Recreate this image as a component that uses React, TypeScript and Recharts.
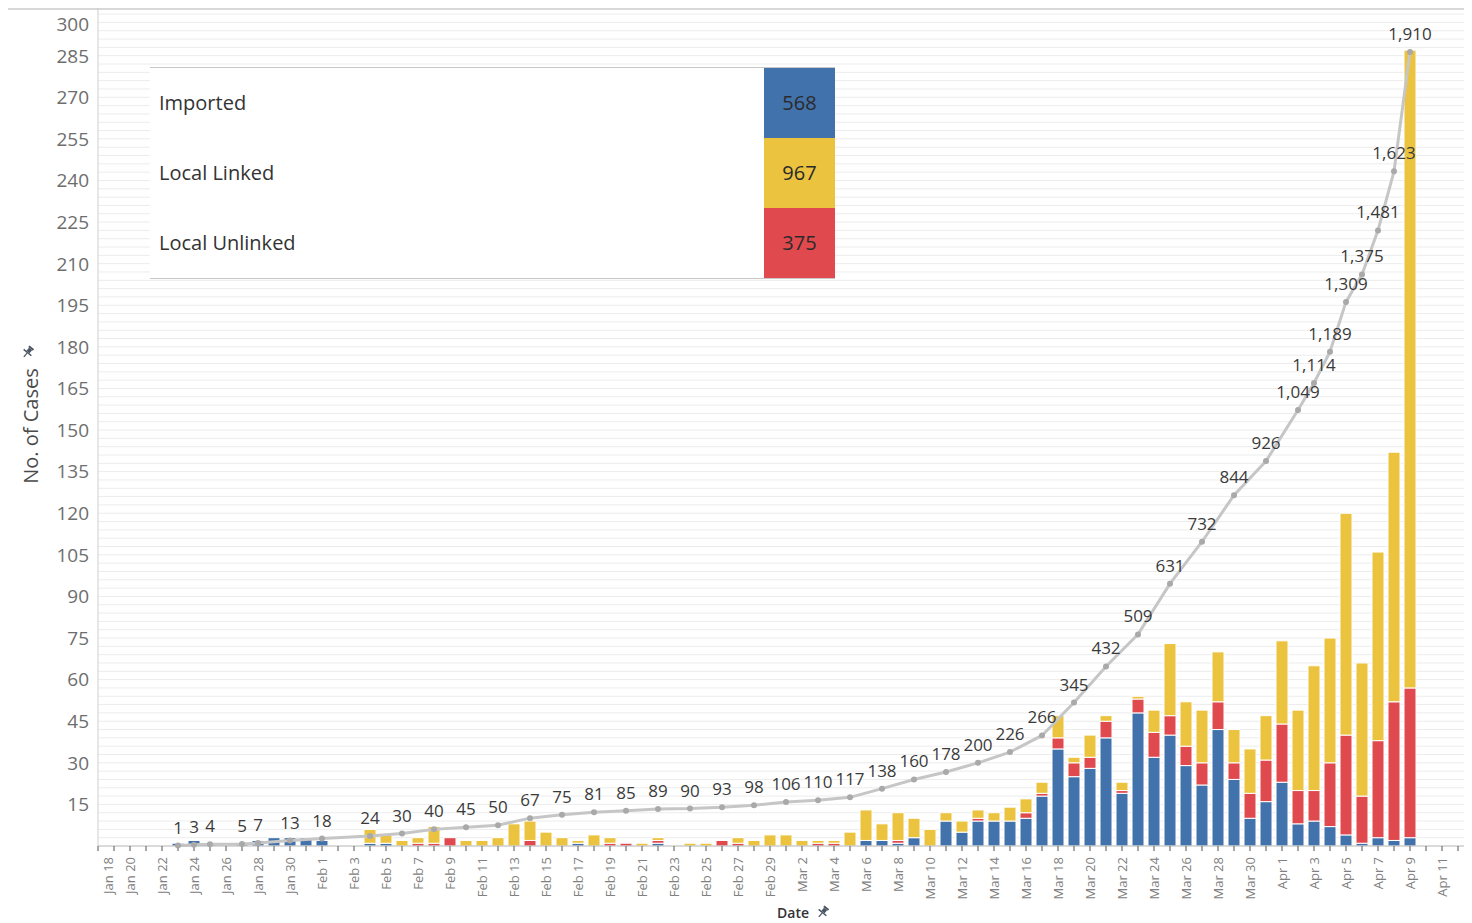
import { ComposedChart, Bar, Line, XAxis, YAxis, CartesianGrid, LabelList } from 'recharts';

const dates = [
  'Jan 18', 'Jan 19', 'Jan 20', 'Jan 21', 'Jan 22', 'Jan 23', 'Jan 24', 'Jan 25', 'Jan 26', 'Jan 27',
  'Jan 28', 'Jan 29', 'Jan 30', 'Jan 31',
  'Feb 1', 'Feb 2', 'Feb 3', 'Feb 4', 'Feb 5', 'Feb 6', 'Feb 7', 'Feb 8', 'Feb 9', 'Feb 10',
  'Feb 11', 'Feb 12', 'Feb 13', 'Feb 14', 'Feb 15', 'Feb 16', 'Feb 17', 'Feb 18', 'Feb 19', 'Feb 20',
  'Feb 21', 'Feb 22', 'Feb 23', 'Feb 24', 'Feb 25', 'Feb 26', 'Feb 27', 'Feb 28', 'Feb 29',
  'Mar 1', 'Mar 2', 'Mar 3', 'Mar 4', 'Mar 5', 'Mar 6', 'Mar 7', 'Mar 8', 'Mar 9', 'Mar 10',
  'Mar 11', 'Mar 12', 'Mar 13', 'Mar 14', 'Mar 15', 'Mar 16', 'Mar 17', 'Mar 18', 'Mar 19', 'Mar 20',
  'Mar 21', 'Mar 22', 'Mar 23', 'Mar 24', 'Mar 25', 'Mar 26', 'Mar 27', 'Mar 28', 'Mar 29', 'Mar 30', 'Mar 31',
  'Apr 1', 'Apr 2', 'Apr 3', 'Apr 4', 'Apr 5', 'Apr 6', 'Apr 7', 'Apr 8', 'Apr 9', 'Apr 10',
  'Apr 11', 'Apr 12', 'Apr 13',
];

// daily new cases, one entry per date above
const imported = [
  0, 0, 0, 0, 0, 1, 2, 1, 0, 1, 2, 3, 3, 3,
  2, 0, 0, 1, 1, 0, 0, 0, 0, 0, 0, 0, 0, 0, 0, 0, 1, 0, 0, 0, 0, 1, 0, 0, 0, 0, 0, 0, 0,
  0, 0, 0, 0, 0, 2, 2, 1, 3, 0, 9, 5, 9, 9, 9, 10, 18, 35, 25, 28, 39, 19, 48, 32, 40, 29, 22, 42, 24, 10, 16,
  23, 8, 9, 7, 4, 1, 3, 2, 3, 0, 0, 0, 0,
];

const localUnlinked = [
  0, 0, 0, 0, 0, 0, 0, 0, 0, 0, 0, 0, 0, 0,
  0, 0, 0, 0, 0, 0, 1, 1, 3, 0, 0, 0, 0, 2, 0, 0, 0, 0, 1, 1, 0, 1, 0, 0, 0, 2, 1, 0, 0,
  0, 0, 1, 1, 0, 0, 0, 1, 0, 0, 0, 0, 1, 0, 0, 2, 1, 4, 5, 4, 6, 1, 5, 9, 7, 7, 8, 10, 6, 9, 15,
  21, 12, 11, 23, 36, 17, 35, 50, 54, 0, 0, 0, 0,
];

const localLinked = [
  0, 0, 0, 0, 0, 0, 0, 0, 0, 0, 0, 0, 0, 0,
  0, 0, 0, 5, 3, 2, 2, 6, 0, 2, 2, 3, 8, 7, 5, 3, 1, 4, 2, 0, 1, 1, 0, 1, 1, 0, 2, 2, 4,
  4, 2, 1, 1, 5, 11, 6, 10, 7, 6, 3, 4, 3, 3, 5, 5, 4, 8, 2, 8, 2, 3, 1, 8, 26, 16, 19, 18, 12, 16, 16,
  30, 29, 45, 45, 80, 48, 68, 90, 230, 0, 0, 0, 0,
];

// cumulative total, only where the original shows a point and label
const cumulative = [
  null, null, null, null, null, 1, 3, 4, null, 5, 7, null, 13, null,
  18, null, null, 24, null, 30, null, 40, null, 45, null, 50, null, 67, null, 75, null, 81, null, 85,
  null, 89, null, 90, null, 93, null, 98, null,
  106, null, 110, null, 117, null, 138, null, 160, null, 178, null, 200, null, 226, null, 266, null, 345, null,
  432, null, 509, null, 631, null, 732, null, 844, null, 926,
  null, 1049, 1114, 1189, 1309, 1375, 1481, 1623, 1910, null, null, null, null,
];

const legendNames = ['Imported', 'Local Linked', 'Local Unlinked'];
const legendTotals = [568, 967, 375];

const yTicks = [15, 30, 45, 60, 75, 90, 105, 120, 135, 150, 165, 180, 195, 210, 225, 240, 255, 270, 285, 300];

const BLUE = '#4272ab';
const YELLOW = '#ebc33e';
const RED = '#e04a4f';
const legendColors = [BLUE, YELLOW, RED];
const FONT = "'Open Sans', 'Noto Sans', sans-serif";

const data = dates.map((date, i) => ({
  day: i,
  date,
  imported: imported[i],
  unlinked: localUnlinked[i],
  linked: localLinked[i],
  cum: cumulative[i],
}));

const dayTicks = Array.from({ length: 88 }, (_, i) => i);
const gridValues = Array.from({ length: 100 }, (_, i) => (i + 1) * 3);

const XTick = (props: any) => {
  const { x, y, payload } = props;
  const i = payload.value;
  if (i % 2 !== 0 || !dates[i]) return null;
  const shift = i === 0 ? 10 : 0;
  return (
    <text
      transform={`translate(${x + shift},${y}) rotate(-90)`}
      x={-4}
      dy="0.35em"
      textAnchor="end"
      fontSize={13}
      fill="#808080"
      fontFamily={FONT}
    >
      {dates[i]}
    </text>
  );
};

const YTick = (props: any) => {
  const { y, payload } = props;
  // the top label is held inside the plot, as in the original
  const ty = Math.max(y, 16);
  return (
    <text x={81} y={ty} dy="0.36em" textAnchor="end" fontSize={19} fill="#6e6e6e" fontFamily={FONT}>
      {payload.value}
    </text>
  );
};

const CumLabel = (props: any) => {
  const { x, y, value } = props;
  if (value == null) return null;
  return (
    <text x={x} y={y - 12} textAnchor="middle" fontSize={17} fill="#3a3a3a" fontFamily={FONT}>
      {Number(value).toLocaleString('en-US')}
    </text>
  );
};

const Pin = ({ left, top }: { left: number; top: number }) => (
  <svg width={14} height={14} viewBox="0 0 14 14" style={{ position: 'absolute', left, top }}>
    <g transform="rotate(40 7 7)" fill="#4a5563">
      <rect x={4} y={1} width={6} height={2} />
      <rect x={5} y={3} width={4} height={4} />
      <polygon points="2,7 12,7 12,8.5 2,8.5" />
      <rect x={6.4} y={8.5} width={1.2} height={5} />
    </g>
  </svg>
);

export default function App() {
  return (
    <div style={{ position: 'relative', width: 1464, height: 915, overflow: 'hidden', fontFamily: FONT }}>
      <style>{'html,body{overflow:hidden}'}</style>
      <div style={{ position: 'absolute', left: -4, top: 0, width: 1470, height: 2, background: '#d8d8d8' }} />
      <ComposedChart width={1482} height={915} data={data} margin={{ top: 0, right: 0, bottom: 0, left: 0 }}>
        <CartesianGrid horizontal vertical={false} horizontalValues={gridValues} stroke="#ececec" />
        <XAxis
          type="number"
          dataKey="day"
          domain={[0, 87]}
          ticks={dayTicks}
          interval={0}
          height={77}
          tick={<XTick />}
          tickSize={5}
          tickLine={{ stroke: '#555' }}
          axisLine={{ stroke: '#b5b5b5' }}
        />
        <YAxis
          yAxisId={0}
          width={90}
          domain={[0, 302.2]}
          ticks={yTicks}
          interval={0}
          tick={<YTick />}
          tickLine={false}
          axisLine={{ stroke: '#cfcfcf' }}
        />
        <YAxis yAxisId="cum" orientation="right" hide domain={[0, 2016]} />
        <Bar dataKey="imported" stackId="a" fill={BLUE} stroke="#fff" strokeWidth={1} barSize={12} isAnimationActive={false} />
        <Bar dataKey="unlinked" stackId="a" fill={RED} stroke="#fff" strokeWidth={1} barSize={12} isAnimationActive={false} />
        <Bar dataKey="linked" stackId="a" fill={YELLOW} stroke="#fff" strokeWidth={1} barSize={12} isAnimationActive={false} />
        <Line
          yAxisId="cum"
          dataKey="cum"
          connectNulls
          stroke="#c6c6c6"
          strokeWidth={3}
          dot={{ r: 3, fill: '#a9a9a9', stroke: 'none' }}
          isAnimationActive={false}
        >
          <LabelList dataKey="cum" content={<CumLabel />} />
        </Line>
      </ComposedChart>

      {/* colour legend table */}
      <div
        style={{
          position: 'absolute',
          left: 142,
          top: 59,
          width: 685,
          height: 210,
          background: '#fff',
          borderTop: '1px solid #c8c8c8',
          borderBottom: '1px solid #c8c8c8',
        }}
      >
        {legendNames.map((name, i) => (
          <div key={name} style={{ position: 'absolute', left: 0, top: i * 70, width: 685, height: 70 }}>
            <div style={{ position: 'absolute', left: 9, top: 0, lineHeight: '70px', fontSize: 20, color: '#333' }}>{name}</div>
            <div
              style={{
                position: 'absolute',
                left: 614,
                top: 0,
                width: 71,
                height: 70,
                background: legendColors[i],
                lineHeight: '70px',
                textAlign: 'center',
                fontSize: 20,
                color: '#2a2a2a',
              }}
            >
              {legendTotals[i]}
            </div>
          </div>
        ))}
      </div>

      <div
        style={{
          position: 'absolute',
          left: 22,
          top: 418,
          transform: 'translate(-50%,-50%) rotate(-90deg)',
          fontSize: 20,
          color: '#4a4a4a',
          whiteSpace: 'nowrap',
        }}
      >
        No. of Cases
      </div>
      <Pin left={13} top={337} />

      <div
        style={{
          position: 'absolute',
          left: 785,
          top: 904,
          transform: 'translate(-50%,-50%)',
          fontSize: 14,
          fontWeight: 600,
          color: '#333',
          whiteSpace: 'nowrap',
        }}
      >
        Date
      </div>
      <Pin left={808} top={897} />
    </div>
  );
}
